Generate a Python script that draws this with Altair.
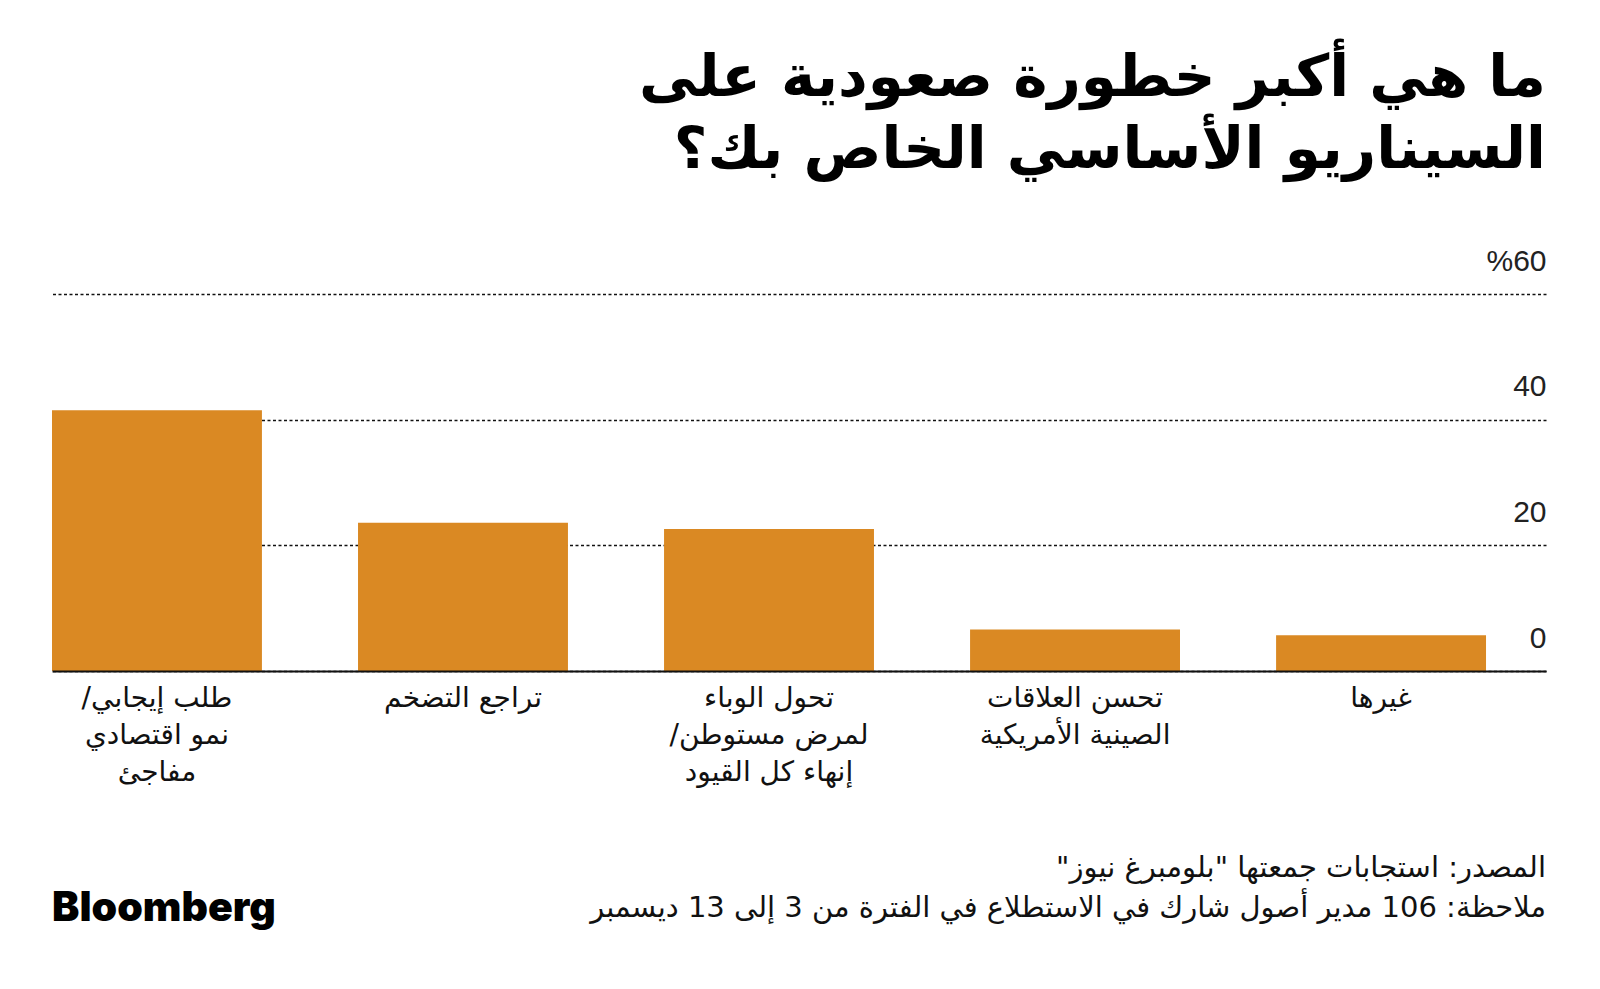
import altair as alt
import pandas as pd

RLM = "\u200f"

categories = [
    "طلب إيجابي/" + RLM + "|نمو اقتصادي|مفاجئ",
    "تراجع التضخم",
    "تحول الوباء|لمرض مستوطن/" + RLM + "|إنهاء كل القيود",
    "تحسن العلاقات|الصينية الأمريكية",
    "غيرها",
]
values = [41.5, 23.6, 22.6, 6.6, 5.7]
y_ticks = [0, 20, 40, 60]

title_lines = ["ما هي أكبر خطورة صعودية على", "السيناريو الأساسي الخاص بك؟"]
source_text = "المصدر: استجابات جمعتها \"بلومبرغ نيوز\"" + RLM
note_text = "ملاحظة: 106 مدير أصول شارك في الاستطلاع في الفترة من 3 إلى 13 ديسمبر"
brand_text = "Bloomberg"

W, H = 1494, 377
AR_FONT = "DejaVu Sans"

df = pd.DataFrame({"cat": categories, "val": values})

bars = alt.Chart(df).mark_bar(color="#DA8923").encode(
    x=alt.X(
        "cat:N",
        sort=categories,
        scale=alt.Scale(paddingInner=0.314, paddingOuter=0.098, align=0),
        axis=alt.Axis(
            title=None,
            labelExpr="split(datum.label, '|')",
            labelAngle=0,
            labelFont=AR_FONT,
            labelFontSize=28,
            labelLineHeight=37,
            labelColor="#111",
            labelPadding=13,
            labelBaseline="top",
            ticks=False,
            domainColor="#111",
            domainWidth=2,
            zindex=1,
            labelLimit=400,
        ),
    ),
    y=alt.Y(
        "val:Q",
        scale=alt.Scale(domain=[0, 60], nice=False),
        axis=alt.Axis(
            title=None,
            orient="right",
            values=y_ticks,
            labelExpr="datum.value == 60 ? '%60' : datum.label",
            labelAlign="right",
            labelBaseline="alphabetic",
            labelOffset=-24,
            labelPadding=0,
            tickSize=0,
            ticks=False,
            domain=False,
            labelFont="Liberation Sans",
            labelFontSize=30,
            labelColor="#222",
            grid=True,
            gridDash=[3, 2.5],
            gridColor="#111",
            gridWidth=1.6,
        ),
    ),
)

src = alt.Chart(pd.DataFrame({"t": [source_text]})).mark_text(
    align="right", baseline="alphabetic", font=AR_FONT, fontSize=29, color="#111"
).encode(text="t:N", x=alt.value(W), y=alt.value(583))

note = alt.Chart(pd.DataFrame({"t": [note_text]})).mark_text(
    align="right", baseline="alphabetic", font=AR_FONT, fontSize=29, color="#111"
).encode(text="t:N", x=alt.value(W), y=alt.value(623))

brand = alt.Chart(pd.DataFrame({"t": [brand_text]})).mark_text(
    align="left", baseline="alphabetic", font="Inter", fontSize=41,
    fontWeight=900, color="#000"
).encode(text="t:N", x=alt.value(0), y=alt.value(627))

chart = alt.layer(bars, src, note, brand).properties(
    width=W,
    height=H,
    padding={"left": 44, "top": 42, "right": 10, "bottom": 10},
    title=alt.TitleParams(
        text=title_lines,
        anchor="end",
        font=AR_FONT,
        fontSize=58,
        fontWeight="bold",
        lineHeight=72,
        color="#000",
        offset=66,
    ),
).configure_view(stroke=None)

chart.save("out.html", embed_options={"renderer": "svg", "actions": False})
